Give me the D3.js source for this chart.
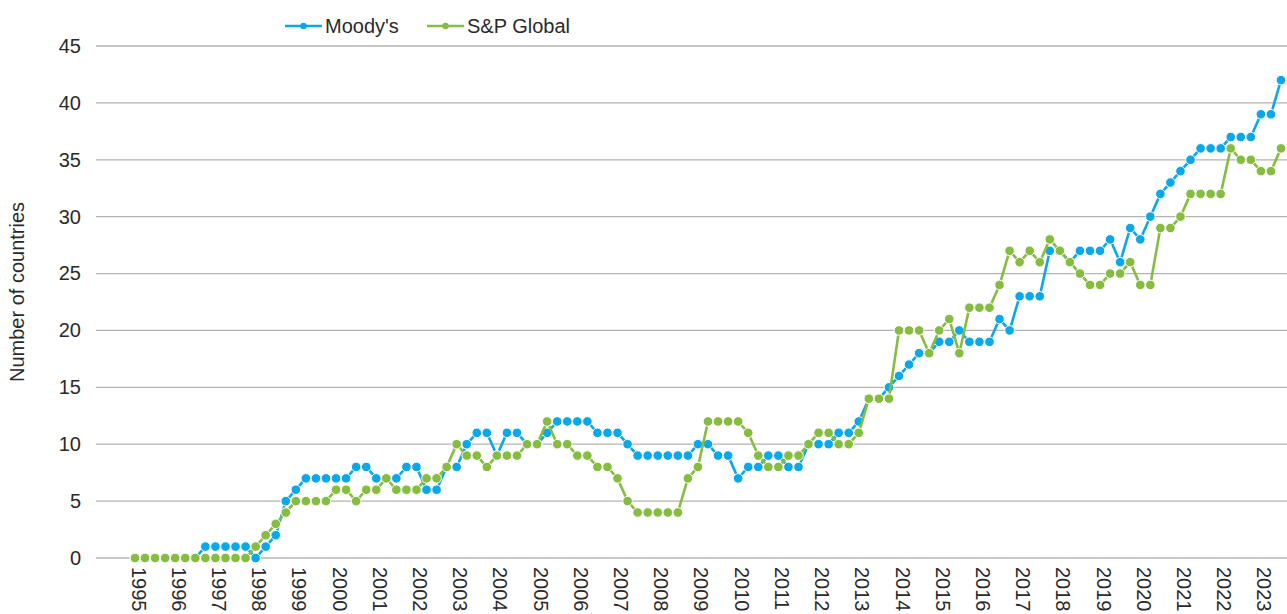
<!DOCTYPE html>
<html>
<head>
<meta charset="utf-8">
<script src="https://cdn.jsdelivr.net/npm/d3@7"></script>
<style>
  body { margin: 0; background: #fff; }
  svg text { font-family: "Liberation Sans", Arial, sans-serif; }
</style>
</head>
<body>
<div id="svg"></div>
<script>
// data
var yearLabels = ["1995","1996","1997","1998","1999","2000","2001","2002","2003","2004",
    "2005","2006","2007","2008","2009","2010","2011","2012","2013","2014",
    "2015","2016","2017","2018","2019","2020","2021","2022","2023"];
var quarterNames = ["Q1","Q2","Q3","Q4"];
var yTicks = [0, 5, 10, 15, 20, 25, 30, 35, 40, 45];

var moodys = [0,0,0,0, 0,0,0,1, 1,1,1,1,
    0,1,2,5, 6,7,7,7, 7,7,8,8, 7,7,7,8, 8,6,6,8,
    8,10,11,11, 9,11,11,10, 10,11,12,12, 12,12,11,11,
    11,10,9,9, 9,9,9,9, 10,10,9,9, 7,8,8,9,
    9,8,8,10, 10,10,11,11, 12,14,14,15, 16,17,18,18,
    19,19,20,19, 19,19,21,20, 23,23,23,27, 27,26,27,27,
    27,28,26,29, 28,30,32,33, 34,35,36,36, 36,37,37,37,
    39,39,42];
var sp = [0,0,0,0, 0,0,0,0, 0,0,0,0,
    1,2,3,4, 5,5,5,5, 6,6,5,6, 6,7,6,6, 6,7,7,8,
    10,9,9,8, 9,9,9,10, 10,12,10,10, 9,9,8,8,
    7,5,4,4, 4,4,4,7, 8,12,12,12, 12,11,9,8,
    8,9,9,10, 11,11,10,10, 11,14,14,14, 20,20,20,18,
    20,21,18,22, 22,22,24,27, 26,27,26,28, 27,26,25,24,
    24,25,25,26, 24,24,29,29, 30,32,32,32, 32,36,35,35,
    34,34,36];

var quarters = [];
yearLabels.forEach(function(y) {
    quarterNames.forEach(function(q) { quarters.push(y + " " + q); });
});
quarters = quarters.slice(0, moodys.length);

var series = [
    { name: "Moody's", values: moodys, colour: "#0aa8e8" },
    { name: "S&P Global", values: sp, colour: "#86bc40" }
];

// layout
var svgWidth = 1287, svgHeight = 614;
var gridLeft = 96, gridRight = 1287;
var plotTop = 46, plotBottom = 558;
var fontSize = 20, textColour = "#2a2a2a";

var svg = d3.select("div#svg").append("svg")
    .attr("width", svgWidth).attr("height", svgHeight);

var x = d3.scalePoint().domain(quarters).range([135, 1281]);
var y = d3.scaleLinear().domain([0, 45]).range([plotBottom, plotTop]);

// gridlines
svg.append("g").selectAll("line").data(yTicks.filter(function(d) { return d > 0; }))
    .join("line")
    .attr("x1", gridLeft).attr("x2", gridRight)
    .attr("y1", function(d) { return y(d); }).attr("y2", function(d) { return y(d); })
    .style("stroke", "#b3b3b3").style("stroke-width", 1.3);

// baseline
svg.append("line")
    .attr("x1", gridLeft).attr("x2", gridRight)
    .attr("y1", y(0)).attr("y2", y(0))
    .style("stroke", "#c8c8c8").style("stroke-width", 2.2);

// y axis labels
var yAxis = svg.append("g")
    .attr("transform", "translate(" + gridLeft + ",0)")
    .call(d3.axisLeft(y).tickValues(yTicks).tickSize(0).tickPadding(15));
yAxis.select(".domain").remove();
yAxis.selectAll("text")
    .attr("font-size", fontSize).attr("fill", textColour)
    .style("font-family", "'Liberation Sans', Arial, sans-serif");

svg.append("text")
    .text("Number of countries")
    .attr("transform", "translate(24," + ((plotTop + plotBottom) / 2 - 10) + ") rotate(-90)")
    .attr("text-anchor", "middle")
    .attr("font-size", fontSize)
    .attr("fill", textColour);

// x axis labels
var xAxis = svg.append("g")
    .attr("transform", "translate(0," + (plotBottom + 9) + ")")
    .call(d3.axisBottom(x)
        .tickValues(quarters.filter(function(d) { return d.slice(5) === "Q1"; }))
        .tickFormat(function(d) { return d.slice(0, 4); })
        .tickSize(0).tickPadding(0));
xAxis.select(".domain").remove();
xAxis.selectAll("text")
    .attr("transform", "translate(3,0) rotate(90)")
    .attr("text-anchor", "start")
    .attr("x", 0).attr("y", 0).attr("dy", "0.35em")
    .attr("font-size", fontSize).attr("fill", textColour)
    .style("font-family", "'Liberation Sans', Arial, sans-serif");

// lines and points
var line = d3.line()
    .x(function(d, i) { return x(quarters[i]); })
    .y(function(d) { return y(d); });

series.forEach(function(s) {
    var g = svg.append("g");
    g.append("path")
        .attr("d", line(s.values))
        .attr("fill", "none")
        .style("stroke", s.colour).style("stroke-width", 2.6);
    g.selectAll("circle").data(s.values).join("circle")
        .attr("cx", function(d, i) { return x(quarters[i]); })
        .attr("cy", function(d) { return y(d); })
        .attr("r", 4.8)
        .attr("fill", s.colour)
        .style("stroke", "#fff").style("stroke-width", 1);
});

// legend
var legend = svg.append("g");
var legendX = [285, 427];
series.forEach(function(s, i) {
    var lg = legend.append("g").attr("transform", "translate(" + legendX[i] + ",26)");
    lg.append("line").attr("x1", 0).attr("x2", 37).attr("y1", 0).attr("y2", 0)
        .style("stroke", s.colour).style("stroke-width", 2.6);
    lg.append("circle").attr("cx", 18.5).attr("cy", 0).attr("r", 3.2).attr("fill", s.colour);
    lg.append("text").text(s.name)
        .attr("x", 40).attr("y", 0).attr("dy", "0.35em")
        .attr("font-size", fontSize).attr("fill", textColour);
});
</script>
</body>
</html>
